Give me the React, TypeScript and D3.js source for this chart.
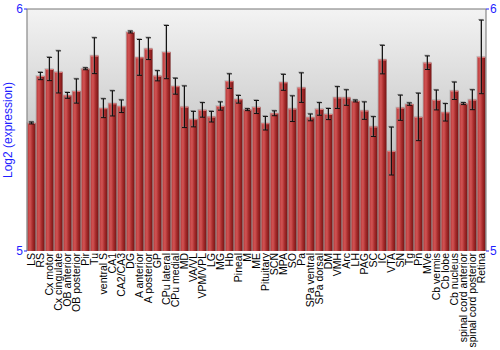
import React from "react";
import * as d3 from "d3";

const categories = ["LS","RS","Cx motor","Cx cingulate","OB anterior","OB posterior","Pir","Tu","ventral S","CA1","CA2/CA3","DG","A anterior","A posterior","GP","CPu lateral","CPu medial","MD","VA/VL","VPM/VPL","LG","MG","Hb","Pineal","M","ME","Pituitary","SCN","MPA","SO","Pa","SPa ventral","SPa dorsal","DM","VMH","Arc","LH","PAG","SC","IC","VTA","SN","Tg","Pn","MVe","Cb vermis","Cb lobe","Cb nucleus","spinal cord anterior","spinal cord posterior","Retina"];

const values = [5.529,5.723,5.752,5.740,5.643,5.661,5.753,5.807,5.590,5.610,5.598,5.905,5.800,5.836,5.724,5.822,5.681,5.596,5.545,5.583,5.555,5.599,5.702,5.627,5.584,5.595,5.528,5.569,5.697,5.588,5.675,5.552,5.587,5.566,5.634,5.634,5.620,5.580,5.514,5.791,5.413,5.592,5.607,5.554,5.778,5.624,5.573,5.662,5.609,5.625,5.802];

const errors = [0.004,0.015,0.048,0.087,0.012,0.050,0.004,0.074,0.039,0.052,0.026,0.004,0.074,0.045,0.021,0.110,0.033,0.086,0.032,0.030,0.022,0.017,0.030,0.016,0.004,0.027,0.028,0.010,0.033,0.053,0.061,0.014,0.026,0.023,0.045,0.032,0.004,0.036,0.041,0.059,0.099,0.052,0.005,0.098,0.028,0.041,0.036,0.036,0.004,0.041,0.152];

const yTicks = [5, 6];
const yTitle = "Log2 (expression)";

export default function App() {
  const W = 500, H = 350;
  const left = 27, right = 486, top = 9, bottom = 251;
  const x = d3.scaleBand<string>().domain(categories).range([left, right]).paddingInner(0.11).paddingOuter(0.06);
  const y = d3.scaleLinear().domain([5, 6]).range([bottom, top]);
  const bw = x.bandwidth();
  const blue = "#1f1fff";
  return (
    <svg width={W} height={H} style={{ position: "absolute", left: 0, top: 0, background: "#fff" }} fontFamily="'Liberation Sans', Arial, sans-serif">
      <defs>
        <linearGradient id="bg" x1="0" y1="0" x2="0" y2="1">
          <stop offset="0%" stopColor="#f3f3f3" />
          <stop offset="100%" stopColor="#a4a4a4" />
        </linearGradient>
        <linearGradient id="bar" x1="0" y1="0" x2="1" y2="0">
          <stop offset="0%" stopColor="#b83a3a" />
          <stop offset="30%" stopColor="#d25454" />
          <stop offset="65%" stopColor="#a52a2a" />
          <stop offset="100%" stopColor="#741414" />
        </linearGradient>
      </defs>
      <rect x={left} y={top} width={right - left} height={bottom - top} fill="url(#bg)" />
      {categories.map((c, i) => {
        const bx = x(c)!;
        const yt = y(values[i]);
        return (
          <g key={c}>
            <rect x={bx - 1} y={yt - 1} width={bw + 1} height={bottom - yt + 1} fill="#888" opacity={0.35} />
            <rect x={bx} y={yt} width={bw} height={bottom - yt} fill="url(#bar)" />
            <line x1={bx} x2={bx + bw} y1={yt + 0.5} y2={yt + 0.5} stroke="#e08080" strokeWidth={1} />
          </g>
        );
      })}
      {categories.map((c, i) => {
        const cx = x(c)! + bw / 2;
        const y1 = y(values[i] + errors[i]);
        const y2 = y(values[i] - errors[i]);
        return (
          <g key={"e" + c}>
            <g stroke="#777" strokeWidth={1} opacity={0.7} transform="translate(-0.7,-0.7)">
              <line x1={cx} x2={cx} y1={y1} y2={y2} />
              <line x1={cx - 2.5} x2={cx + 2.5} y1={y1} y2={y1} />
              <line x1={cx - 2.5} x2={cx + 2.5} y1={y2} y2={y2} />
            </g>
            <g stroke="#111" strokeWidth={1}>
              <line x1={cx} x2={cx} y1={y1} y2={y2} />
              <line x1={cx - 2.5} x2={cx + 2.5} y1={y1} y2={y1} />
              <line x1={cx - 2.5} x2={cx + 2.5} y1={y2} y2={y2} />
            </g>
          </g>
        );
      })}
      <line x1={left} x2={right} y1={top} y2={top} stroke="#777" strokeWidth={1.2} />
      <line x1={left} x2={left} y1={top} y2={bottom} stroke="#888" strokeWidth={1.2} />
      <line x1={right} x2={right} y1={top} y2={bottom} stroke="#888" strokeWidth={1.2} />
      {yTicks.map((t) => (
        <g key={t}>
          <line x1={left - 3} x2={left} y1={y(t)} y2={y(t)} stroke={blue} />
          <line x1={right} x2={right + 3} y1={y(t)} y2={y(t)} stroke={blue} />
          <text x={left - 4} y={y(t)} dy="0.35em" textAnchor="end" fontSize={12} fill={blue}>{t}</text>
          <text x={right + 4} y={y(t)} dy="0.35em" textAnchor="start" fontSize={12} fill={blue}>{t}</text>
        </g>
      ))}
      <text transform={`translate(12,${(top + bottom) / 2}) rotate(-90)`} textAnchor="middle" fontSize={12} fill={blue}>{yTitle}</text>
      {categories.map((c) => (
        <text key={"l" + c} transform={`translate(${x(c)! + bw / 2},${bottom + 2}) rotate(-90)`} dy="0.35em" textAnchor="end" fontSize={10.5} fill="#000">{c}</text>
      ))}
    </svg>
  );
}
